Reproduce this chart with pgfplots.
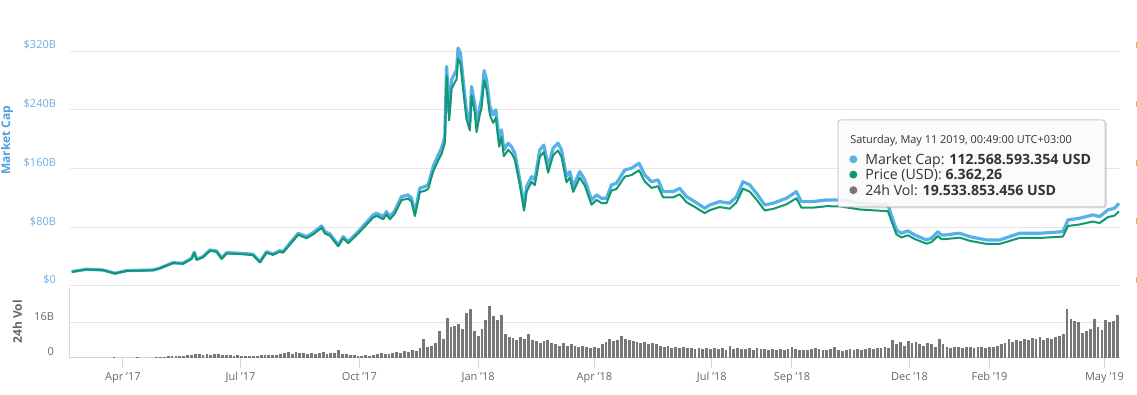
\documentclass[border=0pt]{standalone}
\usepackage{fontspec}
\setmainfont{Open Sans}
\usepackage{pgfplots}
\usepackage{pgfplotstable}
\pgfplotsset{compat=1.18}
\definecolor{capblue}{RGB}{88,176,232}
\definecolor{pricegreen}{RGB}{16,152,112}
\definecolor{volgray}{RGB}{119,119,119}
\definecolor{gridgray}{RGB}{230,230,230}
\definecolor{axisblue}{RGB}{204,214,235}
\definecolor{labelblue}{RGB}{110,172,230}
\definecolor{titleblue}{RGB}{80,160,222}
\definecolor{labelgray}{RGB}{102,102,102}
\definecolor{textdark}{RGB}{51,51,51}
\definecolor{gold}{RGB}{222,180,60}
\definecolor{tipborder}{RGB}{200,200,200}

\pgfplotstableread{
day cap price
50.3 19.5 1206
61.9 22.8 1408
74.5 21.8 1344
83.8 17.3 1066
92.9 20.9 1286
113.2 21.8 1338
118.7 24.5 1503
128.7 31.8 1949
136.5 30.9 1892
143.2 37.8 2313
145.2 45.9 2807
147.1 36.4 2226
151.9 39.9 2439
157.4 49.1 2999
162.5 47.7 2912
166.4 37.8 2306
170.3 45.4 2770
180.6 44.6 2718
190.6 43.2 2629
196.1 33.1 2013
201.2 46.7 2839
206.1 43.6 2649
211.5 48.1 2920
213.9 46.7 2835
219.3 58.2 3532
225.7 71.8 4352
232.2 67.2 4070
237.3 72.6 4395
243.8 81.8 4949
246.4 74.0 4474
250.2 70.9 4287
256.7 55.9 3378
260.5 67.2 4058
264.4 60.4 3645
272.1 74.0 4463
283.8 96.8 5831
286.4 99.1 5966
291.5 94.4 5680
294.1 101.3 6095
296.7 94.4 5677
300.5 102.6 6166
305.7 121.7 7309
310.8 124.0 7443
313.5 119.5 7173
316.0 99.1 5948
319.9 133.2 7990
323.8 135.3 8111
326.3 137.7 8255
330.2 162.6 9742
334.1 178.5 10689
336.7 187.7 11240
339.2 203.5 12178
340.6 298.9 17888
342.6 235.4 14087
344.4 280.8 16794
347.0 289.9 17338
348.3 294.4 17597
349.5 324.0 19366
351.3 317.0 18948
353.9 271.6 16225
356.0 237.6 14194
358.6 221.8 13242
359.9 271.6 16215
362.5 246.7 14728
363.8 219.4 13099
366.3 244.4 14582
367.6 253.5 15125
369.7 293.4 17506
371.5 280.8 16744
374.1 244.4 14574
376.6 233.0 13886
378.7 239.9 14297
381.3 199.0 11852
383.1 212.6 12662
384.9 185.4 11042
388.2 194.5 11577
390.9 189.8 11298
393.4 180.9 10762
397.3 144.5 8591
400.6 108.0 6421
402.5 135.3 8039
406.4 149.0 8853
408.9 144.5 8581
412.8 185.4 11009
415.9 192.0 11395
419.2 162.6 9644
423.1 187.7 11133
426.9 194.5 11529
429.6 185.4 10984
433.4 149.0 8827
436.0 155.8 9225
438.6 135.3 8011
443.7 155.8 9219
447.6 144.5 8545
452.8 117.0 6915
456.7 124.0 7324
460.5 119.5 7059
464.4 119.5 7054
468.3 137.7 8124
472.1 140.0 8255
478.6 158.0 9311
483.8 160.4 9446
489.6 167.2 9841
494.0 151.3 8900
499.2 142.0 8348
504.3 144.5 8490
508.2 128.5 7550
515.9 128.5 7541
521.1 133.0 7801
526.3 121.7 7134
532.7 114.9 6731
540.5 105.9 6200
544.4 110.4 6460
552.1 114.9 6719
559.8 112.7 6583
565.0 121.7 7105
570.1 142.0 8285
575.3 137.7 8029
580.5 126.3 7360
586.9 110.4 6430
593.3 112.7 6560
603.7 119.5 6948
611.4 128.5 7467
615.3 114.9 6672
624.3 114.9 6665
634.7 117.2 6790
645.0 117.2 6782
660.5 112.7 6511
682.3 110.4 6363
686.2 90.0 5187
688.9 76.3 4395
692.7 71.8 4134
697.8 75.0 4315
703.0 69.5 3999
712.1 62.7 3603
715.9 65.0 3734
721.0 74.0 4248
723.7 69.5 3990
726.2 69.5 3987
737.9 71.8 4115
745.6 67.2 3849
758.5 62.7 3585
768.8 62.7 3581
784.3 71.8 4094
799.8 71.8 4089
817.8 74.0 4205
821.7 90.0 5111
830.7 92.3 5238
841.0 96.8 5488
846.2 94.5 5354
852.6 103.6 5863
857.8 105.9 5990
861.2 112.6 6362
}\mcdata

\begin{document}
\begin{tikzpicture}
% ---------- top panel: market cap ----------
\begin{axis}[
  at={(52.5pt,81.75pt)}, anchor=south west,
  scale only axis, width=787.5pt, height=184.5pt,
  xmin=49, xmax=862, ymin=0, ymax=335,
  axis line style={draw=none},
  xtick=\empty,
  ytick={0,80,160,240,320},
  yticklabels={\$0,\$80B,\$160B,\$240B,\$320B},
  ytick style={draw=none},
  ymajorgrids, grid style={gridgray, line width=0.75pt},
  yticklabel style={font=\fontsize{8.25}{10}\selectfont, text=labelblue, anchor=east, xshift=-7pt, yshift=4.5pt},
  ylabel={Market Cap},
  every axis y label/.style={at={(axis description cs:-0.06,0.593)}, rotate=90, anchor=center, font=\bfseries\fontsize{9}{10}\selectfont, text=titleblue},
]
\draw[gridgray, line width=1.5pt] (rel axis cs:0,0) -- (rel axis cs:1,0);
\addplot[capblue, line width=2.4pt, line join=round] table[x=day,y=cap]{\mcdata};
\end{axis}
% ---------- top panel: price (right axis, labels cut by the page edge) ----------
\begin{axis}[
  at={(52.5pt,81.75pt)}, anchor=south west,
  scale only axis, width=787.5pt, height=184.5pt,
  xmin=49, xmax=862, ymin=0, ymax=20937.5,
  axis x line=none, axis y line*=right,
  axis line style={draw=none},
  scaled y ticks=false,
  ytick={0,5000,10000,15000,20000},
  yticklabel={\textcolor{gold}{\rule{0.8pt}{4.5pt}}},
  ytick style={draw=none},
  yticklabel style={anchor=west, inner sep=0pt, xshift=11.6pt, yshift=4.5pt},
]
\addplot[pricegreen, line width=1.5pt, line join=round] table[x=day,y=price]{\mcdata};
\end{axis}
% ---------- bottom panel: 24h volume ----------
\begin{axis}[
  at={(52.5pt,27.975pt)}, anchor=south west,
  scale only axis, width=787.5pt, height=52.3pt,
  xmin=49, xmax=862, ymin=0, ymax=31.5,
  axis x line*=bottom, axis y line*=left,
  axis line style={-, draw=axisblue, line width=0.75pt},
  xtick={90,181,273,365,455,546,608,699,761,850},
  xticklabels={Apr \char39 17,Jul \char39 17,Oct \char39 17,Jan \char39 18,Apr \char39 18,Jul \char39 18,Sep \char39 18,Dec \char39 18,Feb \char39 19,May \char39 19},
  xtick align=outside, major tick length=7.5pt,
  xtick style={draw=axisblue, line width=0.75pt},
  xticklabel style={font=\fontsize{8.25}{10}\selectfont, text=labelgray},
  ytick={0,16}, yticklabels={0,16B},
  ytick style={draw=none},
  ymajorgrids, grid style={gridgray, line width=0.75pt},
  yticklabel style={font=\fontsize{8.25}{10}\selectfont, text=labelgray, anchor=east, xshift=-8.5pt, yshift=4.5pt},
  ylabel={24h Vol},
  every axis y label/.style={at={(axis description cs:-0.05,0.516)}, rotate=90, anchor=center, font=\bfseries\fontsize{9}{10}\selectfont, text=labelgray},
]
\addplot[ycomb, volgray, line width=2.1pt] coordinates {
(50,0.05)(53,0.05)(56,0.05)(59,0.05)(62,0.05)(65,0.05)(68,0.05)(71,0.05)(74,0.05)(77,0.05)
(80,0.05)(83,0.3)(86,0.05)(89,0.05)(92,0.05)(95,0.05)(98,0.05)(101,0.3)(104,0.05)(107,0.05)
(110,0.05)(113,0.05)(116,0.1)(119,0.1)(122,0.5)(125,0.6)(128,0.7)(131,0.6)(134,0.8)(137,0.8)
(140,1.0)(143,1.2)(146,1.5)(149,1.7)(152,1.3)(155,1.6)(158,1.4)(161,1.5)(164,1.7)(167,1.2)
(170,1.4)(173,1.0)(176,0.9)(179,1.1)(182,0.8)(185,0.7)(188,0.9)(191,0.8)(194,0.7)(197,1.2)
(200,1.0)(203,1.1)(206,1.0)(209,1.3)(212,1.6)(215,2.0)(218,2.6)(221,1.8)(224,2.4)(227,2.0)
(230,2.2)(233,1.8)(236,2.3)(239,1.6)(242,2.0)(245,2.5)(248,1.7)(251,2.2)(254,1.9)(257,3.3)
(260,1.8)(263,1.5)(266,1.2)(269,1.0)(272,0.9)(275,0.8)(278,1.0)(281,0.9)(284,1.1)(287,1.6)
(290,1.9)(293,1.8)(296,1.7)(299,2.0)(302,2.5)(305,2.2)(308,3.0)(311,2.4)(314,3.5)(317,3.0)
(320,4.2)(323,8.5)(326,5.0)(329,5.5)(332,6.5)(335,12.0)(338,8.5)(341,18.0)(344,14.0)(347,14.5)
(350,15.0)(353,13.0)(356,20.0)(359,22.0)(362,12.0)(365,10.0)(368,13.0)(371,17.0)(374,23.4)(377,19.0)
(380,17.0)(383,19.5)(386,10.5)(389,9.5)(392,9.0)(395,8.0)(398,9.5)(401,8.5)(404,10.5)(407,8.0)
(410,7.5)(413,6.5)(416,7.5)(419,8.0)(422,6.5)(425,6.0)(428,5.5)(431,6.5)(434,5.5)(437,6.0)
(440,5.5)(443,5.0)(446,5.5)(449,5.0)(452,4.5)(455,5.0)(458,4.5)(461,6.0)(464,7.0)(467,8.5)
(470,7.5)(473,8.0)(476,10.0)(479,8.5)(482,8.0)(485,7.5)(488,7.0)(491,6.5)(494,7.0)(497,6.0)
(500,6.5)(503,6.0)(506,5.5)(509,5.0)(512,5.5)(515,4.5)(518,5.0)(521,4.5)(524,5.0)(527,4.5)
(530,4.5)(533,4.0)(536,4.5)(539,4.0)(542,4.5)(545,4.0)(548,4.5)(551,3.8)(554,4.2)(557,3.5)
(560,5.5)(563,4.0)(566,4.5)(569,4.0)(572,3.8)(575,4.2)(578,3.5)(581,4.5)(584,4.0)(587,3.8)
(590,3.5)(593,3.8)(596,3.6)(599,4.0)(602,3.5)(605,3.8)(608,5.0)(611,3.8)(614,3.5)(617,3.6)
(620,3.5)(623,4.0)(626,4.2)(629,3.8)(632,3.5)(635,3.4)(638,3.8)(641,4.8)(644,3.5)(647,3.2)
(650,3.5)(653,3.8)(656,3.6)(659,3.8)(662,3.5)(665,4.0)(668,4.2)(671,3.8)(674,4.4)(677,4.2)
(680,4.8)(683,4.5)(686,8.0)(689,6.0)(692,7.0)(695,5.5)(698,7.5)(701,6.5)(704,7.0)(707,6.0)
(710,5.5)(713,6.5)(716,6.0)(719,5.0)(722,8.5)(725,6.0)(728,5.0)(731,4.5)(734,5.0)(737,4.8)
(740,4.5)(743,4.8)(746,5.0)(749,4.5)(752,4.8)(755,5.0)(758,4.6)(761,5.0)(764,4.8)(767,5.2)
(770,6.0)(773,6.5)(776,8.5)(779,7.0)(782,8.0)(785,7.5)(788,8.5)(791,8.0)(794,9.0)(797,8.5)
(800,9.5)(803,8.0)(806,9.0)(809,8.5)(812,9.5)(815,10.0)(818,10.5)(821,22.0)(824,17.5)(827,16.5)
(830,16.0)(833,11.0)(836,12.0)(839,13.0)(842,17.5)(845,14.0)(848,12.5)(851,17.0)(854,16.0)(857,16.5)
(860,19.5)
};
\end{axis}
% ---------- tooltip ----------
\fill[black, opacity=0.12, rounded corners=2pt] (630pt,140pt) rectangle (830.25pt,205.5pt);
\draw[draw=tipborder, fill=white, fill opacity=0.88, rounded corners=2pt, line width=0.75pt] (628.5pt,141pt) rectangle (828.75pt,206.25pt);
\node[anchor=base west, inner sep=0pt, text=textdark, font=\fontsize{8.2}{9}\selectfont] at (637.5pt,188.5pt) {Saturday, May 11 2019, 00:49:00 UTC+03:00};
\fill[capblue] (640pt,176.8pt) circle (3pt);
\node[anchor=base west, inner sep=0pt, text=textdark, font=\fontsize{10.6}{12}\selectfont] at (648.75pt,173pt) {Market Cap: \textbf{112.568.593.354 USD}};
\fill[pricegreen] (640pt,165.3pt) circle (3pt);
\node[anchor=base west, inner sep=0pt, text=textdark, font=\fontsize{10.6}{12}\selectfont] at (648.75pt,161.5pt) {Price (USD): \textbf{6.362,26}};
\fill[volgray] (640pt,153.6pt) circle (3pt);
\node[anchor=base west, inner sep=0pt, text=textdark, font=\fontsize{10.6}{12}\selectfont] at (648.75pt,149.8pt) {24h Vol: \textbf{19.533.853.456 USD}};
% ---------- page size ----------
\pgfresetboundingbox
\useasboundingbox (0pt,0pt) rectangle (852.75pt,296.25pt);
\end{tikzpicture}
\end{document}
